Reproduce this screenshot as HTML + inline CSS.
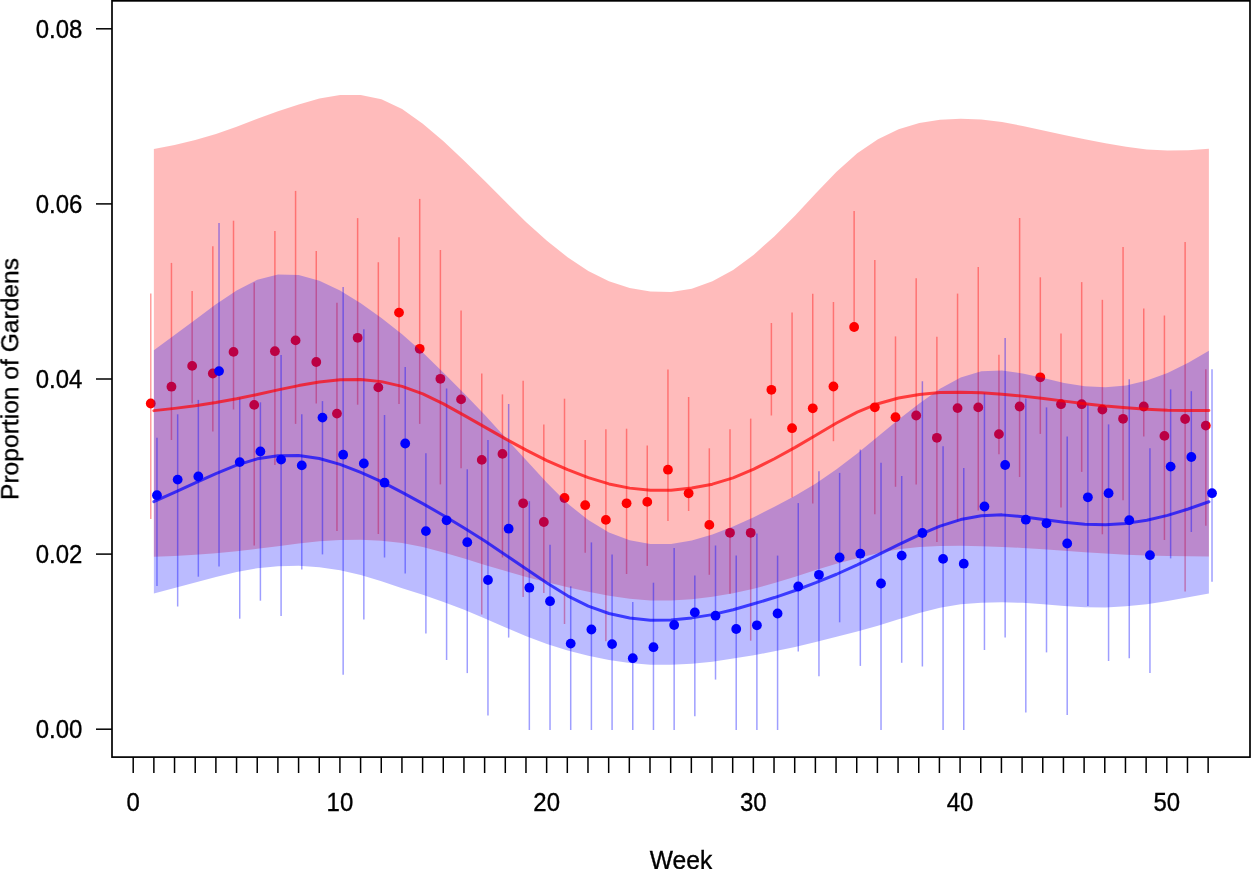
<!DOCTYPE html><html><head><meta charset="utf-8"><title>Proportion of Gardens by Week</title><style>html,body{margin:0;padding:0;background:#fff;overflow:hidden}svg{display:block}</style></head><body>
<svg width="1251" height="869" viewBox="0 0 1251 869" font-family="Liberation Sans, sans-serif">
<rect width="1251" height="869" fill="#fff"/>
<path d="M153.87 149.07 L174.56 145.04 L195.24 140.11 L215.93 133.91 L236.62 126.64 L257.31 118.84 L277.99 111.23 L298.68 104.4 L319.37 98.58 L340.05 95.11 L360.74 95.03 L381.43 99.33 L402.11 108.99 L422.8 123.71 L443.49 141.33 L464.18 160.71 L484.86 181.03 L505.55 201.8 L526.24 222.21 L546.92 240.79 L567.61 257.24 L588.3 271.09 L608.98 281.3 L629.67 288.05 L650.36 291.62 L671.05 291.9 L691.73 288.73 L712.42 281.36 L733.11 270.04 L753.79 254.7 L774.48 236.22 L795.17 215.41 L815.85 193.32 L836.54 171.65 L857.23 153.32 L877.92 139.3 L898.6 129.3 L919.29 123.11 L939.98 119.7 L960.66 118.7 L981.35 119.5 L1002.04 122.1 L1022.72 126 L1043.41 130.51 L1064.1 134.99 L1084.79 139.36 L1105.47 143.26 L1126.16 146.73 L1146.85 149.39 L1167.53 150.53 L1188.22 150.18 L1208.91 148.8 L1208.91 556.44 L1188.22 556.33 L1167.53 556.08 L1146.85 555.55 L1126.16 554.64 L1105.47 553.47 L1084.79 552.16 L1064.1 550.75 L1043.41 549.27 L1022.72 547.91 L1002.04 546.89 L981.35 546.18 L960.66 545.78 L939.98 545.93 L919.29 546.94 L898.6 549.24 L877.92 553.14 L857.23 558.15 L836.54 563.69 L815.85 570.09 L795.17 576.66 L774.48 583.05 L753.79 588.64 L733.11 593.21 L712.42 596.8 L691.73 599.24 L671.05 600.48 L650.36 600.46 L629.67 598.86 L608.98 595.78 L588.3 591.77 L567.61 587.26 L546.92 582.29 L526.24 576.89 L505.55 571.08 L484.86 564.9 L464.18 558.54 L443.49 552.39 L422.8 546.93 L402.11 543.08 L381.43 540.8 L360.74 539.66 L340.05 539.88 L319.37 541.36 L298.68 543.61 L277.99 546.22 L257.31 548.87 L236.62 551.24 L215.93 553.23 L195.24 554.75 L174.56 555.9 L153.87 556.86 Z" fill="rgb(255,0,0)" fill-opacity="0.265" stroke="none"/>
<g stroke="rgb(255,0,0)" stroke-opacity="0.39" stroke-width="1.5"><line x1="150.77" y1="293.6" x2="150.77" y2="519.1"/><line x1="171.46" y1="262.9" x2="171.46" y2="440"/><line x1="192.14" y1="291" x2="192.14" y2="403.5"/><line x1="212.83" y1="246.3" x2="212.83" y2="431.6"/><line x1="233.52" y1="220.7" x2="233.52" y2="409.5"/><line x1="254.21" y1="282.4" x2="254.21" y2="545.5"/><line x1="274.89" y1="230.9" x2="274.89" y2="465"/><line x1="295.58" y1="190.9" x2="295.58" y2="423.9"/><line x1="316.27" y1="251" x2="316.27" y2="403.5"/><line x1="336.95" y1="302.7" x2="336.95" y2="531.1"/><line x1="357.64" y1="218.1" x2="357.64" y2="404.7"/><line x1="378.33" y1="262.2" x2="378.33" y2="534"/><line x1="399.01" y1="237.3" x2="399.01" y2="404"/><line x1="419.7" y1="198.9" x2="419.7" y2="423.9"/><line x1="440.39" y1="250" x2="440.39" y2="484.4"/><line x1="461.08" y1="310.5" x2="461.08" y2="468.3"/><line x1="481.76" y1="373.5" x2="481.76" y2="614.5"/><line x1="502.45" y1="394.4" x2="502.45" y2="557.5"/><line x1="523.14" y1="380.7" x2="523.14" y2="597.1"/><line x1="543.82" y1="424.6" x2="543.82" y2="593"/><line x1="564.51" y1="398.7" x2="564.51" y2="624"/><line x1="585.2" y1="440" x2="585.2" y2="552.7"/><line x1="605.88" y1="429.2" x2="605.88" y2="641.2"/><line x1="626.57" y1="428.7" x2="626.57" y2="574"/><line x1="647.26" y1="445.5" x2="647.26" y2="565.9"/><line x1="667.95" y1="369.4" x2="667.95" y2="521.1"/><line x1="688.63" y1="397" x2="688.63" y2="511"/><line x1="709.32" y1="448.3" x2="709.32" y2="574.8"/><line x1="730.01" y1="429.2" x2="730.01" y2="593.8"/><line x1="750.69" y1="418.6" x2="750.69" y2="640.7"/><line x1="771.38" y1="323" x2="771.38" y2="415.5"/><line x1="792.07" y1="312.4" x2="792.07" y2="497.6"/><line x1="812.75" y1="293.7" x2="812.75" y2="503.5"/><line x1="833.44" y1="302" x2="833.44" y2="441.2"/><line x1="854.13" y1="211.1" x2="854.13" y2="330"/><line x1="874.82" y1="260" x2="874.82" y2="514.3"/><line x1="895.5" y1="336.4" x2="895.5" y2="486.8"/><line x1="916.19" y1="278.2" x2="916.19" y2="484.4"/><line x1="936.88" y1="336.8" x2="936.88" y2="541.9"/><line x1="957.56" y1="293.6" x2="957.56" y2="521.5"/><line x1="978.25" y1="267" x2="978.25" y2="510.5"/><line x1="998.94" y1="354.8" x2="998.94" y2="454.2"/><line x1="1019.62" y1="218.1" x2="1019.62" y2="477.1"/><line x1="1040.31" y1="277.3" x2="1040.31" y2="433.9"/><line x1="1061" y1="333.5" x2="1061" y2="507.4"/><line x1="1081.69" y1="282.1" x2="1081.69" y2="471.9"/><line x1="1102.37" y1="299.8" x2="1102.37" y2="534.3"/><line x1="1123.06" y1="246.9" x2="1123.06" y2="500.2"/><line x1="1143.75" y1="308.5" x2="1143.75" y2="436.6"/><line x1="1164.43" y1="315.5" x2="1164.43" y2="540"/><line x1="1185.12" y1="242.1" x2="1185.12" y2="591.5"/><line x1="1205.81" y1="369.2" x2="1205.81" y2="525.8"/></g>
<g fill="rgb(255,0,0)"><circle cx="150.77" cy="403.5" r="4.9"/><circle cx="171.46" cy="386.7" r="4.9"/><circle cx="192.14" cy="365.9" r="4.9"/><circle cx="212.83" cy="373.5" r="4.9"/><circle cx="233.52" cy="351.9" r="4.9"/><circle cx="254.21" cy="404.9" r="4.9"/><circle cx="274.89" cy="351.2" r="4.9"/><circle cx="295.58" cy="340.4" r="4.9"/><circle cx="316.27" cy="362" r="4.9"/><circle cx="336.95" cy="413.6" r="4.9"/><circle cx="357.64" cy="337.8" r="4.9"/><circle cx="378.33" cy="387.4" r="4.9"/><circle cx="399.01" cy="312.6" r="4.9"/><circle cx="419.7" cy="348.8" r="4.9"/><circle cx="440.39" cy="378.8" r="4.9"/><circle cx="461.08" cy="399.4" r="4.9"/><circle cx="481.76" cy="459.9" r="4.9"/><circle cx="502.45" cy="453.9" r="4.9"/><circle cx="523.14" cy="503.3" r="4.9"/><circle cx="543.82" cy="522" r="4.9"/><circle cx="564.51" cy="498" r="4.9"/><circle cx="585.2" cy="505.2" r="4.9"/><circle cx="605.88" cy="519.9" r="4.9"/><circle cx="626.57" cy="503.3" r="4.9"/><circle cx="647.26" cy="501.9" r="4.9"/><circle cx="667.95" cy="469.7" r="4.9"/><circle cx="688.63" cy="493.3" r="4.9"/><circle cx="709.32" cy="524.9" r="4.9"/><circle cx="730.01" cy="532.8" r="4.9"/><circle cx="750.69" cy="532.8" r="4.9"/><circle cx="771.38" cy="389.8" r="4.9"/><circle cx="792.07" cy="428.2" r="4.9"/><circle cx="812.75" cy="408.3" r="4.9"/><circle cx="833.44" cy="386.5" r="4.9"/><circle cx="854.13" cy="327" r="4.9"/><circle cx="874.82" cy="407.3" r="4.9"/><circle cx="895.5" cy="417.2" r="4.9"/><circle cx="916.19" cy="415.5" r="4.9"/><circle cx="936.88" cy="437.8" r="4.9"/><circle cx="957.56" cy="408.1" r="4.9"/><circle cx="978.25" cy="407.4" r="4.9"/><circle cx="998.94" cy="434.1" r="4.9"/><circle cx="1019.62" cy="406.5" r="4.9"/><circle cx="1040.31" cy="377.3" r="4.9"/><circle cx="1061" cy="404.2" r="4.9"/><circle cx="1081.69" cy="404.2" r="4.9"/><circle cx="1102.37" cy="409.6" r="4.9"/><circle cx="1123.06" cy="418.8" r="4.9"/><circle cx="1143.75" cy="406.5" r="4.9"/><circle cx="1164.43" cy="435.9" r="4.9"/><circle cx="1185.12" cy="419" r="4.9"/><circle cx="1205.81" cy="425.6" r="4.9"/></g>
<path d="M153.87 350.17 L174.56 335.09 L195.24 319.75 L215.93 304.36 L236.62 290.38 L257.31 279.78 L277.99 274.6 L298.68 275.03 L319.37 280.65 L340.05 290.38 L360.74 303.21 L381.43 318.07 L402.11 334.3 L422.8 352.43 L443.49 372.73 L464.18 393.5 L484.86 415.12 L505.55 437.77 L526.24 460.25 L546.92 482.76 L567.61 503.61 L588.3 520.1 L608.98 532.4 L629.67 540.34 L650.36 544.08 L671.05 543.98 L691.73 540.45 L712.42 534.41 L733.11 526.6 L753.79 517.15 L774.48 506.69 L795.17 495.84 L815.85 483.43 L836.54 469.37 L857.23 453.54 L877.92 436.4 L898.6 419.45 L919.29 403.39 L939.98 388.66 L960.66 377.61 L981.35 371.36 L1002.04 370.48 L1022.72 373.41 L1043.41 378.04 L1064.1 382.88 L1084.79 386.25 L1105.47 387.21 L1126.16 385.41 L1146.85 380.6 L1167.53 373.11 L1188.22 362.8 L1208.91 350.66 L1208.91 593.48 L1188.22 597.31 L1167.53 601.01 L1146.85 604.14 L1126.16 606.31 L1105.47 607.38 L1084.79 607.21 L1064.1 606.05 L1043.41 604.34 L1022.72 602.87 L1002.04 602.18 L981.35 602.63 L960.66 604.28 L939.98 607.66 L919.29 612.91 L898.6 619.31 L877.92 625.75 L857.23 631.4 L836.54 636.65 L815.85 641.92 L795.17 646.94 L774.48 651.36 L753.79 655.16 L733.11 658.61 L712.42 661.73 L691.73 663.79 L671.05 664.79 L650.36 664.64 L629.67 663.04 L608.98 659.98 L588.3 655.72 L567.61 650.45 L546.92 644 L526.24 636.15 L505.55 627.44 L484.86 618.51 L464.18 609.87 L443.49 601.9 L422.8 594.81 L402.11 588.18 L381.43 581.19 L360.74 575.08 L340.05 570.31 L319.37 567.13 L298.68 565.76 L277.99 566.14 L257.31 568.24 L236.62 572.09 L215.93 577.03 L195.24 582.39 L174.56 587.88 L153.87 593.42 Z" fill="rgb(0,0,255)" fill-opacity="0.265" stroke="none"/>
<g stroke="rgb(0,0,255)" stroke-opacity="0.38" stroke-width="1.5"><line x1="156.97" y1="437.8" x2="156.97" y2="586"/><line x1="177.66" y1="414.3" x2="177.66" y2="606.5"/><line x1="198.34" y1="399.9" x2="198.34" y2="576.7"/><line x1="219.03" y1="222.9" x2="219.03" y2="566.4"/><line x1="239.72" y1="397.5" x2="239.72" y2="618.7"/><line x1="260.4" y1="402.3" x2="260.4" y2="600.7"/><line x1="281.09" y1="355" x2="281.09" y2="616"/><line x1="301.78" y1="414.3" x2="301.78" y2="569.5"/><line x1="322.47" y1="401.1" x2="322.47" y2="554.4"/><line x1="343.15" y1="287" x2="343.15" y2="674.8"/><line x1="363.84" y1="329.2" x2="363.84" y2="619.5"/><line x1="384.53" y1="415" x2="384.53" y2="557.5"/><line x1="405.21" y1="367" x2="405.21" y2="573.6"/><line x1="425.9" y1="453.2" x2="425.9" y2="633.5"/><line x1="446.59" y1="388.6" x2="446.59" y2="659.9"/><line x1="467.27" y1="469.3" x2="467.27" y2="673.1"/><line x1="487.96" y1="440" x2="487.96" y2="715.6"/><line x1="508.65" y1="404" x2="508.65" y2="637.6"/><line x1="529.34" y1="501.2" x2="529.34" y2="730"/><line x1="550.02" y1="544.8" x2="550.02" y2="730"/><line x1="570.71" y1="586.3" x2="570.71" y2="730"/><line x1="591.4" y1="542.4" x2="591.4" y2="730"/><line x1="612.08" y1="554.4" x2="612.08" y2="730"/><line x1="632.77" y1="601.9" x2="632.77" y2="730"/><line x1="653.46" y1="582.7" x2="653.46" y2="730"/><line x1="674.15" y1="547.9" x2="674.15" y2="730"/><line x1="694.83" y1="575.5" x2="694.83" y2="716.3"/><line x1="715.52" y1="545.5" x2="715.52" y2="679.6"/><line x1="736.21" y1="555.6" x2="736.21" y2="730"/><line x1="756.89" y1="533.5" x2="756.89" y2="730"/><line x1="777.58" y1="555.6" x2="777.58" y2="730"/><line x1="798.27" y1="503.1" x2="798.27" y2="651.5"/><line x1="818.95" y1="471.2" x2="818.95" y2="676.2"/><line x1="839.64" y1="472.9" x2="839.64" y2="622.3"/><line x1="860.33" y1="449.6" x2="860.33" y2="665.9"/><line x1="881.02" y1="462.8" x2="881.02" y2="730"/><line x1="901.7" y1="476" x2="901.7" y2="662.8"/><line x1="922.39" y1="381.2" x2="922.39" y2="666.4"/><line x1="943.08" y1="446.3" x2="943.08" y2="730"/><line x1="963.76" y1="468.1" x2="963.76" y2="730"/><line x1="984.45" y1="393" x2="984.45" y2="650"/><line x1="1005.14" y1="338" x2="1005.14" y2="637.4"/><line x1="1025.82" y1="398.6" x2="1025.82" y2="712.6"/><line x1="1046.51" y1="407.4" x2="1046.51" y2="652.4"/><line x1="1067.2" y1="436.6" x2="1067.2" y2="714.9"/><line x1="1087.88" y1="404" x2="1087.88" y2="606"/><line x1="1108.57" y1="424.4" x2="1108.57" y2="661"/><line x1="1129.26" y1="379.3" x2="1129.26" y2="658.3"/><line x1="1149.95" y1="448.3" x2="1149.95" y2="672.9"/><line x1="1170.63" y1="389.4" x2="1170.63" y2="558.4"/><line x1="1191.32" y1="391.2" x2="1191.32" y2="532"/><line x1="1212.01" y1="369.2" x2="1212.01" y2="581.8"/></g>
<g fill="rgb(0,0,255)"><circle cx="156.97" cy="495.2" r="4.9"/><circle cx="177.66" cy="479.6" r="4.9"/><circle cx="198.34" cy="476.5" r="4.9"/><circle cx="219.03" cy="371.1" r="4.9"/><circle cx="239.72" cy="462.1" r="4.9"/><circle cx="260.4" cy="451.5" r="4.9"/><circle cx="281.09" cy="459.6" r="4.9"/><circle cx="301.78" cy="465.4" r="4.9"/><circle cx="322.47" cy="417.6" r="4.9"/><circle cx="343.15" cy="454.7" r="4.9"/><circle cx="363.84" cy="463.5" r="4.9"/><circle cx="384.53" cy="482.7" r="4.9"/><circle cx="405.21" cy="443.5" r="4.9"/><circle cx="425.9" cy="531.1" r="4.9"/><circle cx="446.59" cy="520.3" r="4.9"/><circle cx="467.27" cy="542.2" r="4.9"/><circle cx="487.96" cy="580" r="4.9"/><circle cx="508.65" cy="528.7" r="4.9"/><circle cx="529.34" cy="587.7" r="4.9"/><circle cx="550.02" cy="601.2" r="4.9"/><circle cx="570.71" cy="643.6" r="4.9"/><circle cx="591.4" cy="629.5" r="4.9"/><circle cx="612.08" cy="644.1" r="4.9"/><circle cx="632.77" cy="658.2" r="4.9"/><circle cx="653.46" cy="647.2" r="4.9"/><circle cx="674.15" cy="625" r="4.9"/><circle cx="694.83" cy="612.4" r="4.9"/><circle cx="715.52" cy="615.7" r="4.9"/><circle cx="736.21" cy="629" r="4.9"/><circle cx="756.89" cy="625.3" r="4.9"/><circle cx="777.58" cy="613.5" r="4.9"/><circle cx="798.27" cy="586.5" r="4.9"/><circle cx="818.95" cy="574.8" r="4.9"/><circle cx="839.64" cy="557.5" r="4.9"/><circle cx="860.33" cy="553.7" r="4.9"/><circle cx="881.02" cy="583.5" r="4.9"/><circle cx="901.7" cy="555.6" r="4.9"/><circle cx="922.39" cy="533" r="4.9"/><circle cx="943.08" cy="558.9" r="4.9"/><circle cx="963.76" cy="563.7" r="4.9"/><circle cx="984.45" cy="506.5" r="4.9"/><circle cx="1005.14" cy="465" r="4.9"/><circle cx="1025.82" cy="519.7" r="4.9"/><circle cx="1046.51" cy="523.3" r="4.9"/><circle cx="1067.2" cy="543.5" r="4.9"/><circle cx="1087.88" cy="497.3" r="4.9"/><circle cx="1108.57" cy="493.2" r="4.9"/><circle cx="1129.26" cy="520.2" r="4.9"/><circle cx="1149.95" cy="555.2" r="4.9"/><circle cx="1170.63" cy="466.6" r="4.9"/><circle cx="1191.32" cy="457" r="4.9"/><circle cx="1212.01" cy="493.2" r="4.9"/></g>
<path d="M153.87 410.62 L174.56 408.37 L195.24 405.76 L215.93 402.6 L236.62 398.84 L257.31 394.51 L277.99 389.91 L298.68 385.6 L319.37 381.99 L340.05 379.79 L360.74 379.52 L381.43 381.62 L402.11 386.38 L422.8 393.96 L443.49 403.91 L464.18 415.35 L484.86 427.16 L505.55 438.83 L526.24 450.12 L546.92 460.54 L567.61 469.71 L588.3 477.62 L608.98 483.92 L629.67 488.12 L650.36 490.25 L671.05 490.19 L691.73 488.08 L712.42 484.17 L733.11 477.89 L753.79 469.16 L774.48 458.74 L795.17 447.37 L815.85 435.19 L836.54 422.99 L857.23 412.17 L877.92 403.73 L898.6 398.04 L919.29 394.44 L939.98 392.55 L960.66 392.16 L981.35 392.79 L1002.04 394.17 L1022.72 396.12 L1043.41 398.51 L1064.1 401.13 L1084.79 403.8 L1105.47 406.02 L1126.16 407.74 L1146.85 409.2 L1167.53 410.21 L1188.22 410.62 L1208.91 410.55" fill="none" stroke="rgb(255,0,0)" stroke-opacity="0.69" stroke-width="3.0" stroke-linejoin="round" stroke-linecap="round"/>
<path d="M153.87 501.64 L174.56 492.36 L195.24 482.93 L215.93 473.55 L236.62 465.15 L257.31 458.83 L277.99 455.66 L298.68 455.56 L319.37 458.54 L340.05 464.38 L360.74 472.44 L381.43 481.69 L402.11 492.32 L422.8 503.58 L443.49 515.48 L464.18 527.96 L484.86 541.06 L505.55 554.92 L526.24 569 L546.92 583.07 L567.61 595.84 L588.3 606.15 L608.98 613.48 L629.67 618.07 L650.36 620.23 L671.05 619.89 L691.73 617.89 L712.42 614.61 L733.11 609.69 L753.79 603.8 L774.48 597.55 L795.17 590.49 L815.85 582.68 L836.54 574.25 L857.23 564.83 L877.92 554.84 L898.6 544.65 L919.29 534.82 L939.98 526.15 L960.66 519.58 L981.35 515.68 L1002.04 514.87 L1022.72 516.64 L1043.41 519.45 L1064.1 522.27 L1084.79 524.24 L1105.47 524.77 L1126.16 523.38 L1146.85 520.21 L1167.53 515.39 L1188.22 509 L1208.91 501.78" fill="none" stroke="rgb(0,0,255)" stroke-opacity="0.69" stroke-width="3.0" stroke-linejoin="round" stroke-linecap="round"/>
<rect x="112" y="0.85" width="1138" height="756.25" fill="none" stroke="#000" stroke-width="1.7"/>
<g stroke="#000" stroke-width="1.5"><line x1="96" y1="729.2" x2="112" y2="729.2"/><line x1="96" y1="554.1" x2="112" y2="554.1"/><line x1="96" y1="379" x2="112" y2="379"/><line x1="96" y1="203.9" x2="112" y2="203.9"/><line x1="96" y1="28.8" x2="112" y2="28.8"/><line x1="133.2" y1="757" x2="133.2" y2="773"/><line x1="153.87" y1="757" x2="153.87" y2="773"/><line x1="174.54" y1="757" x2="174.54" y2="773"/><line x1="195.22" y1="757" x2="195.22" y2="773"/><line x1="215.89" y1="757" x2="215.89" y2="773"/><line x1="236.56" y1="757" x2="236.56" y2="773"/><line x1="257.23" y1="757" x2="257.23" y2="773"/><line x1="277.9" y1="757" x2="277.9" y2="773"/><line x1="298.58" y1="757" x2="298.58" y2="773"/><line x1="319.25" y1="757" x2="319.25" y2="773"/><line x1="339.92" y1="757" x2="339.92" y2="773"/><line x1="360.59" y1="757" x2="360.59" y2="773"/><line x1="381.26" y1="757" x2="381.26" y2="773"/><line x1="401.94" y1="757" x2="401.94" y2="773"/><line x1="422.61" y1="757" x2="422.61" y2="773"/><line x1="443.28" y1="757" x2="443.28" y2="773"/><line x1="463.95" y1="757" x2="463.95" y2="773"/><line x1="484.62" y1="757" x2="484.62" y2="773"/><line x1="505.3" y1="757" x2="505.3" y2="773"/><line x1="525.97" y1="757" x2="525.97" y2="773"/><line x1="546.64" y1="757" x2="546.64" y2="773"/><line x1="567.31" y1="757" x2="567.31" y2="773"/><line x1="587.98" y1="757" x2="587.98" y2="773"/><line x1="608.66" y1="757" x2="608.66" y2="773"/><line x1="629.33" y1="757" x2="629.33" y2="773"/><line x1="650" y1="757" x2="650" y2="773"/><line x1="670.67" y1="757" x2="670.67" y2="773"/><line x1="691.34" y1="757" x2="691.34" y2="773"/><line x1="712.02" y1="757" x2="712.02" y2="773"/><line x1="732.69" y1="757" x2="732.69" y2="773"/><line x1="753.36" y1="757" x2="753.36" y2="773"/><line x1="774.03" y1="757" x2="774.03" y2="773"/><line x1="794.7" y1="757" x2="794.7" y2="773"/><line x1="815.38" y1="757" x2="815.38" y2="773"/><line x1="836.05" y1="757" x2="836.05" y2="773"/><line x1="856.72" y1="757" x2="856.72" y2="773"/><line x1="877.39" y1="757" x2="877.39" y2="773"/><line x1="898.06" y1="757" x2="898.06" y2="773"/><line x1="918.74" y1="757" x2="918.74" y2="773"/><line x1="939.41" y1="757" x2="939.41" y2="773"/><line x1="960.08" y1="757" x2="960.08" y2="773"/><line x1="980.75" y1="757" x2="980.75" y2="773"/><line x1="1001.42" y1="757" x2="1001.42" y2="773"/><line x1="1022.1" y1="757" x2="1022.1" y2="773"/><line x1="1042.77" y1="757" x2="1042.77" y2="773"/><line x1="1063.44" y1="757" x2="1063.44" y2="773"/><line x1="1084.11" y1="757" x2="1084.11" y2="773"/><line x1="1104.78" y1="757" x2="1104.78" y2="773"/><line x1="1125.46" y1="757" x2="1125.46" y2="773"/><line x1="1146.13" y1="757" x2="1146.13" y2="773"/><line x1="1166.8" y1="757" x2="1166.8" y2="773"/><line x1="1187.47" y1="757" x2="1187.47" y2="773"/><line x1="1208.14" y1="757" x2="1208.14" y2="773"/></g>
<g font-size="24.6" fill="#000" stroke="#000" stroke-width="0.35" style="will-change:transform"><text transform="translate(82.4 738.4) scale(0.975 1.07)" text-anchor="end">0.00</text><text transform="translate(82.4 563.3) scale(0.975 1.07)" text-anchor="end">0.02</text><text transform="translate(82.4 388.2) scale(0.975 1.07)" text-anchor="end">0.04</text><text transform="translate(82.4 213.1) scale(0.975 1.07)" text-anchor="end">0.06</text><text transform="translate(82.4 38) scale(0.975 1.07)" text-anchor="end">0.08</text><text transform="translate(133.2 811) scale(0.975 1.07)" text-anchor="middle">0</text><text transform="translate(339.92 811) scale(0.975 1.07)" text-anchor="middle">10</text><text transform="translate(546.64 811) scale(0.975 1.07)" text-anchor="middle">20</text><text transform="translate(753.36 811) scale(0.975 1.07)" text-anchor="middle">30</text><text transform="translate(960.08 811) scale(0.975 1.07)" text-anchor="middle">40</text><text transform="translate(1166.8 811) scale(0.975 1.07)" text-anchor="middle">50</text><text transform="translate(681 869) scale(1 1.06)" text-anchor="middle">Week</text><text transform="translate(18.3 379) rotate(-90)" text-anchor="middle">Proportion of Gardens</text></g>
</svg></body></html>
